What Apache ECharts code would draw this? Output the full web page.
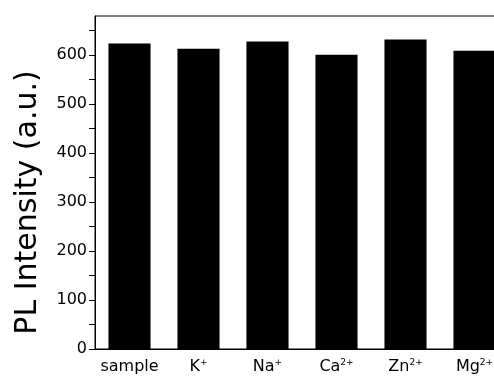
<!DOCTYPE html>
<html>
<head>
<meta charset="utf-8">
<script src="https://cdn.jsdelivr.net/npm/echarts@6/dist/echarts.min.js"></script>
<style>
  html, body { margin: 0; padding: 0; background: #fff; }
  #chart { width: 494px; height: 377px; }
</style>
</head>
<body>
<div id="chart"></div>
<script>
const categories = ['sample', 'K+', 'Na+', 'Ca2+', 'Zn2+', 'Mg2+'];
const categoryLabels = ['{b|sample}', '{b|K}{s|+}', '{b|Na}{s|+}', '{b|Ca}{s|2+}', '{b|Zn}{s|2+}', '{b|Mg}{s|2+}'];
const intensity = [624, 613, 628, 601, 632, 609];
const yLabels = [0, 100, 200, 300, 400, 500, 600];
const yTicks = [0, 50, 100, 150, 200, 250, 300, 350, 400, 450, 500, 550, 600, 650];

const chart = echarts.init(document.getElementById('chart'));
const font = 'DejaVu Sans';

chart.setOption({
    animation: false,
    grid: {
        left: 95, top: 16, bottom: 28, width: 414,
        outerBoundsMode: 'none',
        containLabel: false,
        show: true, borderColor: '#000', borderWidth: 1
    },
    xAxis: {
        type: 'category',
        data: categories,
        axisLine: { lineStyle: { color: '#000', width: 1 } },
        axisTick: { show: false },
        axisLabel: {
            interval: 0,
            margin: 9,
            formatter: (v, i) => categoryLabels[i],
            rich: {
                b: { fontFamily: font, fontSize: 16, color: '#000', lineHeight: 18 },
                s: { fontFamily: font, fontSize: 9, color: '#000', verticalAlign: 'top', lineHeight: 18, padding: [0, 0, 10, 0] }
            }
        }
    },
    yAxis: {
        type: 'value',
        min: 0,
        max: 680,
        interval: 50,
        name: 'PL Intensity (a.u.)',
        nameLocation: 'middle',
        nameGap: 52,
        nameTextStyle: { fontFamily: font, fontSize: 30, color: '#000', padding: [0, 0, 0, -40] },
        axisLine: { show: true, lineStyle: { color: '#000', width: 1 } },
        axisTick: { show: true, length: 6, customValues: yTicks, lineStyle: { color: '#000' } },
        splitLine: { show: false },
        axisLabel: {
            fontFamily: font, fontSize: 16, color: '#000', margin: 8,
            customValues: yLabels
        }
    },
    series: [{
        type: 'bar',
        data: intensity,
        barCategoryGap: '39%',
        itemStyle: { color: '#000' }
    }]
});
</script>
</body>
</html>
